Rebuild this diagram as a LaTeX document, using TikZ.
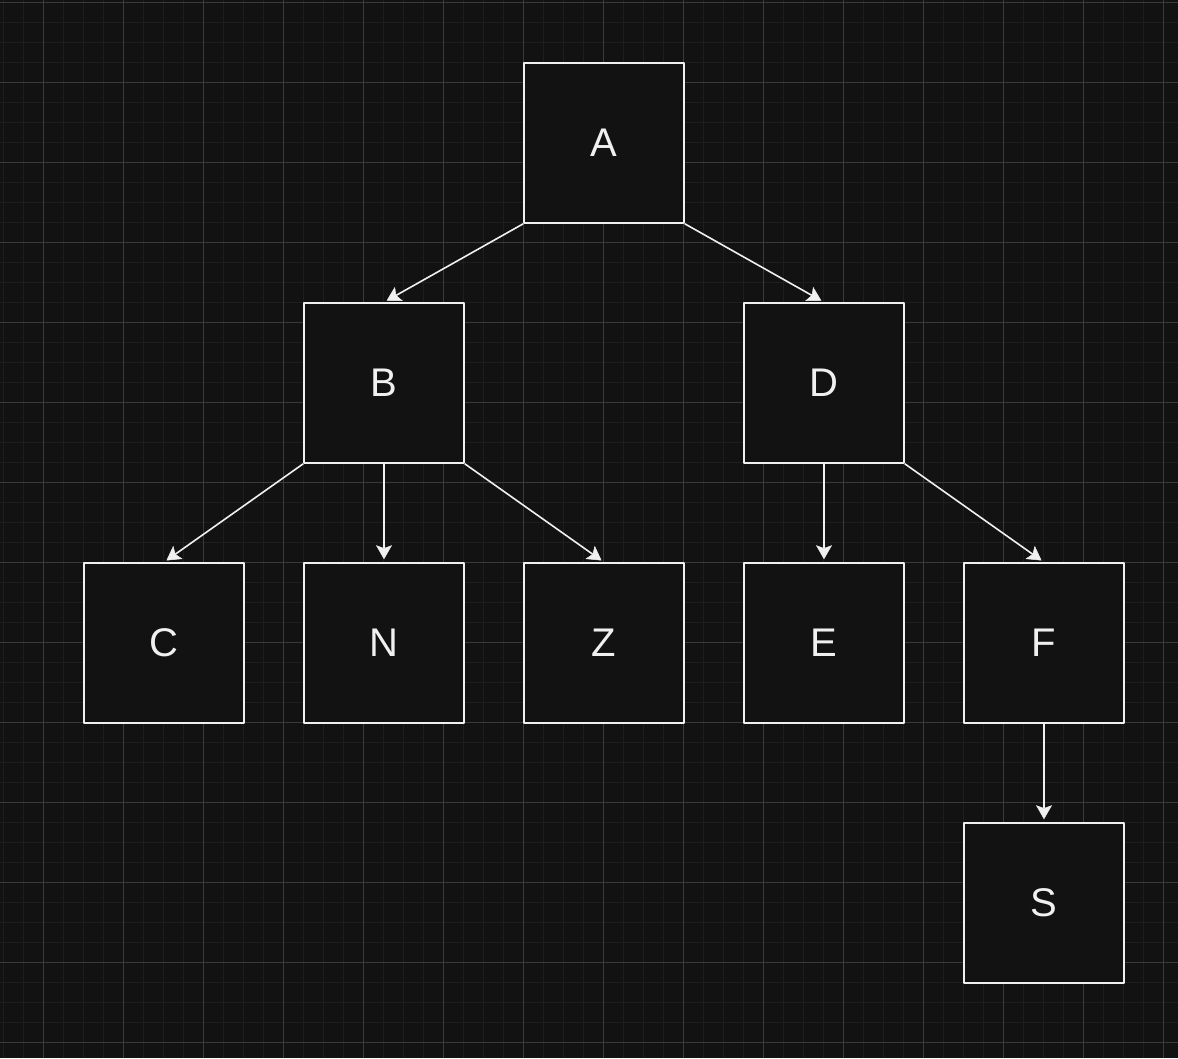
\documentclass[tikz,border=0pt]{standalone}
\usepackage{fontspec}
\setmainfont{Liberation Sans}
\usetikzlibrary{arrows.meta}
\definecolor{bgdark}{RGB}{18,18,18}
\definecolor{gridminor}{RGB}{30,30,30}
\definecolor{gridmajor}{RGB}{58,58,58}
\definecolor{inkwhite}{RGB}{240,240,240}
\begin{document}
\begin{tikzpicture}[x=1pt, y=-1pt, line join=round,
	treebox/.style={draw=inkwhite, fill=bgdark, line width=1.6pt, minimum size=160pt, inner sep=0pt,
		text=inkwhite, font=\fontsize{40}{44}\selectfont},
	link/.style={draw=inkwhite, line width=1.6pt, -{Stealth[length=14pt, width=16pt, inset=3pt, line width=0.5pt]}, shorten >=3pt}]
	\fill[bgdark] (0,0) rectangle (1178,1058);
	\useasboundingbox (0,0) rectangle (1178,1058);
	% grid
	\foreach \x in {3,23,...,1178}{
		\draw[gridminor, line width=1pt] (\x,0)--(\x,1058);
	}
	\foreach \y in {2,22,...,1058}{
		\draw[gridminor, line width=1pt] (0,\y)--(1178,\y);
	}
	\foreach \x in {43,123,...,1178}{
		\draw[gridmajor, line width=1pt] (\x,0)--(\x,1058);
	}
	\foreach \y in {2,82,...,1058}{
		\draw[gridmajor, line width=1pt] (0,\y)--(1178,\y);
	}
	% tree
	\foreach \n/\px/\py in {A/604/143,B/384/383,D/824/383,C/164/643,N/384/643,Z/604/643,E/824/643,F/1044/643,S/1044/903}{
		\node[treebox] (\n) at (\px,\py) {\n};
	}
	\draw[link] (A.south west)--(B.north);
	\draw[link] (A.south east)--(D.north);
	\draw[link] (B.south west)--(C.north);
	\draw[link] (B.south)--(N.north);
	\draw[link] (B.south east)--(Z.north);
	\draw[link] (D.south)--(E.north);
	\draw[link] (D.south east)--(F.north);
	\draw[link] (F.south)--(S.north);
\end{tikzpicture}
\end{document}
